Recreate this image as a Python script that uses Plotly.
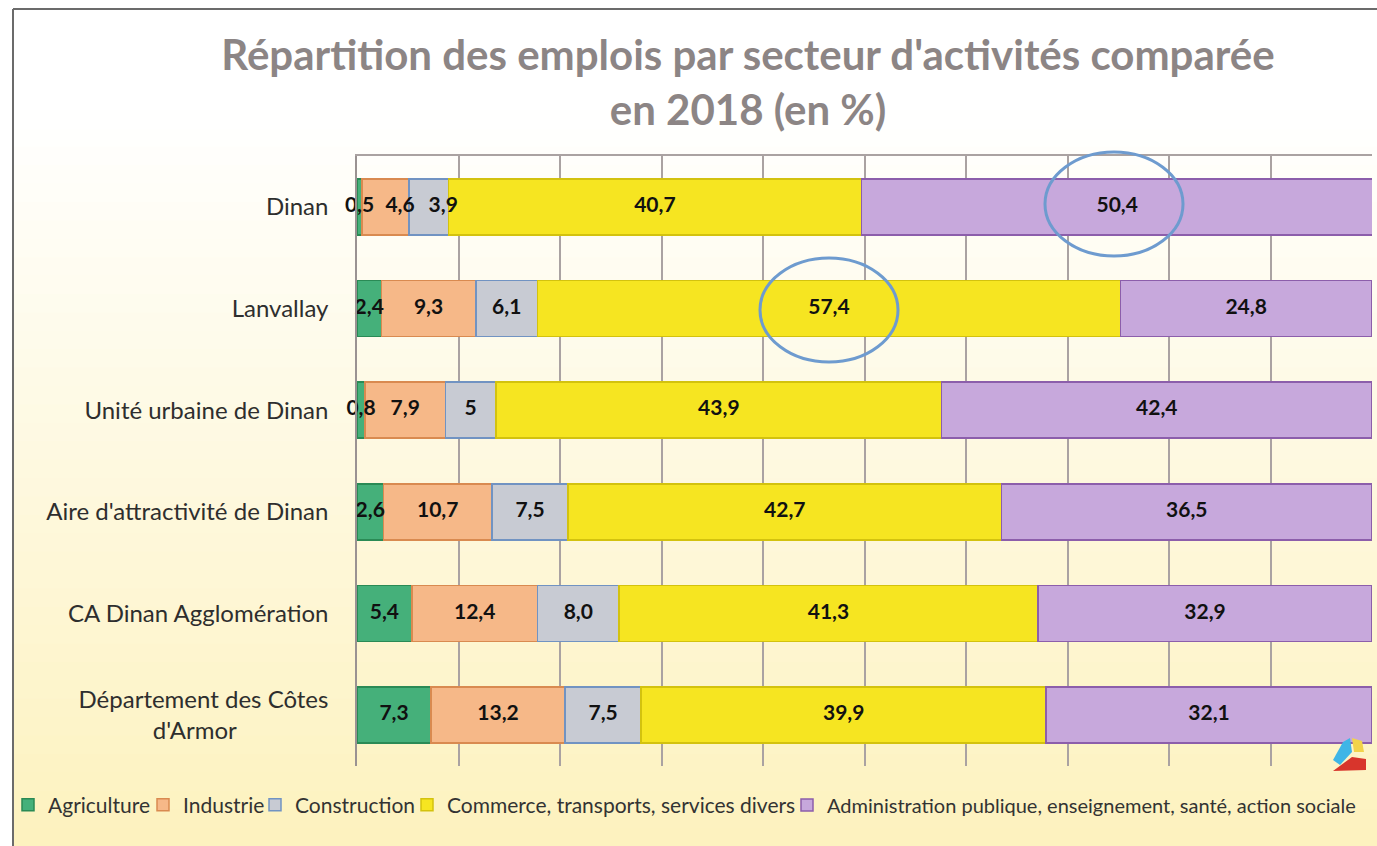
import plotly.graph_objects as go

categories = ["Dinan", "Lanvallay", "Unité urbaine de Dinan", "Aire d'attractivité de Dinan",
              "CA Dinan Agglomération", "Département des Côtes d'Armor"]
tick_labels = ["Dinan", "Lanvallay", "Unité urbaine de Dinan", "Aire d'attractivité de Dinan",
               "CA Dinan Agglomération",
               "Département des Côtes<br>d'Armor" + "\u00a0" * 15]

agriculture = [0.5, 2.4, 0.8, 2.6, 5.4, 7.3]
industrie = [4.6, 9.3, 7.9, 10.7, 12.4, 13.2]
construction = [3.9, 6.1, 5.0, 7.5, 8.0, 7.5]
commerce = [40.7, 57.4, 43.9, 42.7, 41.3, 39.9]
administration = [50.4, 24.8, 42.4, 36.5, 32.9, 32.1]
construction_labels = ["3,9", "6,1", "5", "7,5", "8,0", "7,5"]

series_names = ["Agriculture", "Industrie", "Construction",
                "Commerce, transports, services divers",
                "Administration publique, enseignement, santé, action sociale"]


def fmt(vals):
    return [f"{v:.1f}".replace(".", ",") for v in vals]


W, H = 1377, 846
L, R, T, B = 357, 1372, 156, 766

# one legend per series so each entry sits where the reference puts it
legend_left_px = [8, 143, 255, 407, 787]
legend_font_sizes = [21, 21, 21, 21, 20]

series = [
    (series_names[0], agriculture, fmt(agriculture), "#45b07a", "#2a8a55"),
    (series_names[1], industrie, fmt(industrie), "#f6b888", "#d98a50"),
    (series_names[2], construction, construction_labels, "#c8cbd3", "#7193c2"),
    (series_names[3], commerce, fmt(commerce), "#f6e521", "#d3c20e"),
    (series_names[4], administration, fmt(administration), "#c7a8dc", "#8c5eab"),
]

# labels nudged right to avoid collisions in the crowded first row (series index, row index)
nudge_right = {(1, 0), (2, 0)}

FONT = "Lato"
fig = go.Figure()
cum = [0.0] * len(categories)
lab_x, lab_y, lab_t, lab_pos = [], [], [], []
for s, (name, vals, labels, col, lcol) in enumerate(series):
    leg = "legend" if s == 0 else f"legend{s + 1}"
    fig.add_trace(go.Bar(
        y=categories, x=vals, name=name, orientation="h", legend=leg,
        marker=dict(color=col, line=dict(color=lcol, width=1.5)),
        hoverinfo="x+name",
    ))
    for i, v in enumerate(vals):
        lab_x.append(cum[i] + v / 2)
        lab_pos.append("middle right" if (s, i) in nudge_right else "middle center")
        lab_y.append(categories[i])
        lab_t.append(labels[i])
        cum[i] += v

fig.add_trace(go.Scatter(
    x=lab_x, y=lab_y, text=lab_t, mode="text", showlegend=False, cliponaxis=False,
    textposition=lab_pos, hoverinfo="skip",
    textfont=dict(family=FONT, size=21, color="#111111", weight=700),
))


def px(X):
    return (X - L) / (R - L)


def py(Y):
    return (B - Y) / (B - T)


shapes = []
# background gradient (white -> pale yellow)
n = 40
y0p, y1p = 110, 846
c0 = (255, 255, 255)
c1 = (253, 242, 190)
for i in range(n):
    ya = y0p + (y1p - y0p) * i / n
    yb = y0p + (y1p - y0p) * (i + 1) / n + 1
    t = (i + 0.5) / n
    c = tuple(round(c0[k] + (c1[k] - c0[k]) * t) for k in range(3))
    shapes.append(dict(type="rect", xref="paper", yref="paper", layer="below",
                       x0=px(13), x1=px(W + 5), y0=py(yb), y1=py(ya),
                       fillcolor=f"rgb{c}", line=dict(width=0)))
# frame
shapes.append(dict(type="line", xref="paper", yref="paper", x0=px(13), x1=px(13),
                   y0=py(9), y1=py(H + 5), line=dict(color="#6b6b6b", width=2)))
shapes.append(dict(type="line", xref="paper", yref="paper", x0=px(13), x1=px(W + 5),
                   y0=py(9), y1=py(9), line=dict(color="#6b6b6b", width=2)))
# highlight ellipses
for cx, cy, rx, ry in [(1114, 204, 69, 52), (829, 310, 69, 52)]:
    shapes.append(dict(type="circle", xref="paper", yref="paper",
                       x0=px(cx - rx), x1=px(cx + rx), y0=py(cy + ry), y1=py(cy - ry),
                       line=dict(color="#6e9bcf", width=3)))


def path(pts):
    return "M " + " L ".join(f"{px(x)},{py(y)}" for x, y in pts) + " Z"


# small logo
shapes.append(dict(type="path", xref="paper", yref="paper", path=path(
    [(1343, 742), (1350, 738), (1352, 752), (1340, 765), (1333, 760)]),
    fillcolor="#3fb5e6", line=dict(width=0)))
shapes.append(dict(type="path", xref="paper", yref="paper", path=path(
    [(1352, 738), (1362, 741), (1364, 752), (1354, 752)]),
    fillcolor="#f2d34a", line=dict(width=0)))
shapes.append(dict(type="path", xref="paper", yref="paper", path=path(
    [(1333, 771), (1352, 757), (1366, 759), (1366, 770)]),
    fillcolor="#d8352c", line=dict(width=0)))

legends = {}
for s, (X, fs) in enumerate(zip(legend_left_px, legend_font_sizes)):
    key = "legend" if s == 0 else f"legend{s + 1}"
    legends[key] = dict(orientation="h", xref="container", yref="container",
                        x=X / W, xanchor="left", y=1 - 805 / H, yanchor="middle",
                        font=dict(family=FONT, size=fs, color="#333333"),
                        bgcolor="rgba(0,0,0,0)", itemwidth=30)

fig.update_layout(
    width=W, height=H,
    margin=dict(l=L, r=W - R, t=T, b=H - B, pad=0),
    barmode="stack", bargap=0.45,
    paper_bgcolor="white", plot_bgcolor="rgba(0,0,0,0)",
    font=dict(family=FONT, color="#333333"),
    title=dict(text="Répartition des emplois par secteur d'activités comparée<br>en 2018 (en %)",
               x=748 / W, xanchor="center", xref="container",
               y=1 - 70 / H, yanchor="middle", yref="container",
               font=dict(family=FONT, size=42, color="#8c8585", weight=700)),
    showlegend=True,
    shapes=shapes,
    xaxis=dict(range=[0, 100], dtick=10, showgrid=True, gridcolor="#aaa2a2", gridwidth=1.5,
               showticklabels=False, zeroline=False, showline=True, linecolor="#aaa2a2",
               linewidth=1.5, side="top", ticks=""),
    yaxis=dict(autorange="reversed", tickvals=categories, ticktext=tick_labels,
               showline=True, linecolor="#9a9292", linewidth=1.5, ticks="",
               ticklabelstandoff=22, tickfont=dict(family=FONT, size=24, color="#2e2e2e"),
               showgrid=False),
    **legends,
)

fig.write_html("out.html", config={"displayModeBar": False},
               post_script="document.body.style.margin='0';document.body.style.overflow='hidden';")
